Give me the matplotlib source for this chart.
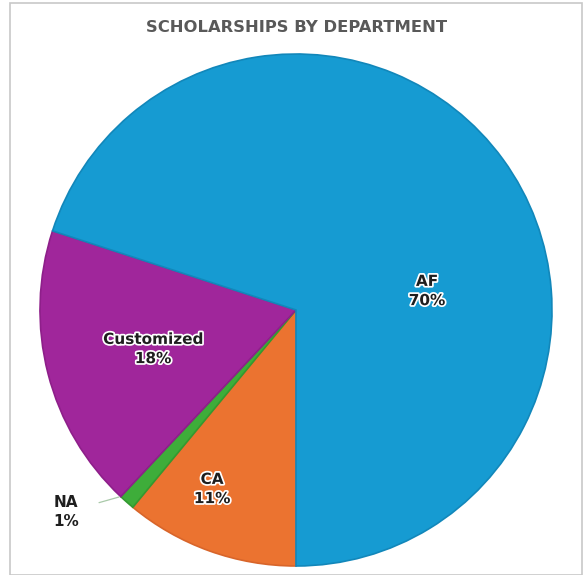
import matplotlib.pyplot as plt
import matplotlib.patheffects as pe
from matplotlib.patches import Rectangle

# scholarship share per department (clockwise from the bottom)
departments = ['CA', 'NA', 'Customized', 'AF']
shares = [11, 1, 18, 70]
colors = ['#EB7330', '#3EAD3A', '#A0269B', '#169BD2']
edges = ['#D8652A', '#339A30', '#8E1F8A', '#1287BA']

W, H = 584, 575
cx, cy, r = 296, 310, 256

fig = plt.figure(figsize=(W / 100, H / 100), dpi=100)
fig.patch.set_facecolor('white')

# light frame round the chart area
fig.patches.append(Rectangle((10 / W, 0), 572 / W, 1 - 3 / H, transform=fig.transFigure,
                             fill=False, edgecolor='#c8c8c8', linewidth=1.2))

ax = fig.add_axes([(cx - r) / W, (H - cy - r) / H, 2 * r / W, 2 * r / H])
wedges, _ = ax.pie(shares, colors=colors, startangle=-90, counterclock=False,
                   radius=1, wedgeprops=dict(linewidth=1.2))
for w, ec in zip(wedges, edges):
    w.set_edgecolor(ec)
ax.set_xlim(-1, 1)
ax.set_ylim(-1, 1)
ax.set_aspect('auto')
ax.axis('off')


def to_ax(px, py):
    return (px - cx) / r, (cy - py) / r


outline = [pe.withStroke(linewidth=2.5, foreground='white')]
label_pos = {'CA': (212, 489), 'Customized': (153, 349), 'AF': (427, 291)}
for name, val in zip(departments, shares):
    if name not in label_pos:
        continue
    x, y = to_ax(*label_pos[name])
    ax.text(x, y, f'{name}\n{val}%', ha='center', va='center', fontsize=11,
            fontweight='bold', color='#1e1e1e', linespacing=1.35,
            path_effects=outline)

# small slice gets an outside label with a leader line
na_val = shares[departments.index('NA')]
ax.annotate(f'NA\n{na_val}%', xy=to_ax(119, 497), xytext=to_ax(66, 512),
            ha='center', va='center', fontsize=11, fontweight='bold',
            color='#1e1e1e', linespacing=1.35,
            arrowprops=dict(arrowstyle='-', color='#a9c9a9', lw=0.9,
                            shrinkA=13, shrinkB=0))

fig.text(297 / W, 1 - 28 / H, 'SCHOLARSHIPS BY DEPARTMENT', ha='center', va='center',
         fontsize=11.8, fontweight='bold', color='#595959')

fig.savefig('out.png', dpi=100, facecolor='white')
